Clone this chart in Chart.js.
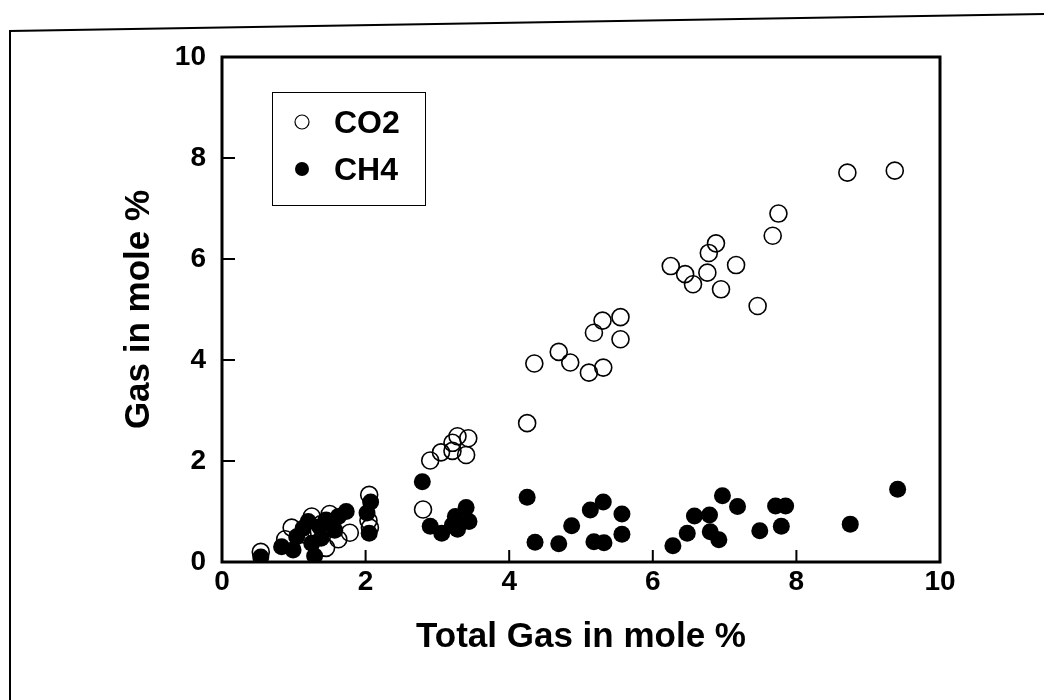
<!DOCTYPE html>
<html>
<head>
<meta charset="utf-8">
<script src="https://cdn.jsdelivr.net/npm/chart.js@4.4.1/dist/chart.umd.min.js"></script>
<style>
  html, body { margin: 0; padding: 0; background: #fff; }
  #wrap { width: 1044px; height: 700px; }
</style>
</head>
<body>
<div id="wrap"><canvas id="gasChart" width="1044" height="700"></canvas></div>
<script>
// total gas (x) vs. component gas (y), mole %
const co2Total = [0.54, 0.88, 0.97, 1.12, 1.25, 1.38, 1.50, 1.45, 1.62, 1.78, 1.30,
    2.05, 2.04, 2.06, 2.80, 2.90, 3.05, 3.21, 3.21, 3.28, 3.43, 3.40,
    4.25, 4.35, 4.69, 4.85, 5.11, 5.31, 5.18, 5.30, 5.55, 5.55,
    6.25, 6.45, 6.56, 6.76, 6.78, 6.88, 6.95, 7.16, 7.46, 7.67, 7.75, 8.71, 9.37];
const co2Gas = [0.20, 0.45, 0.68, 0.55, 0.90, 0.75, 0.95, 0.28, 0.45, 0.58, 0.62,
    1.33, 0.82, 0.68, 1.04, 2.01, 2.17, 2.20, 2.36, 2.49, 2.45, 2.12,
    2.75, 3.93, 4.16, 3.95, 3.75, 3.85, 4.54, 4.78, 4.85, 4.41,
    5.86, 5.70, 5.50, 5.73, 6.12, 6.31, 5.40, 5.88, 5.07, 6.46, 6.90, 7.71, 7.75];

const ch4Total = [0.54, 0.83, 0.99, 1.04, 1.13, 1.25, 1.29, 1.36, 1.38, 1.45, 1.57, 1.62, 1.73, 1.20,
    2.07, 2.02, 2.05, 2.79, 2.90, 3.06, 3.21, 3.25, 3.28, 3.40, 3.44,
    4.25, 4.36, 4.69, 4.87, 5.13, 5.31, 5.57, 5.57, 5.18, 5.32,
    6.28, 6.48, 6.58, 6.79, 6.80, 6.92, 6.97, 7.18, 7.49, 7.71, 7.85, 7.79, 8.75, 9.41];
const ch4Gas = [0.10, 0.30, 0.24, 0.50, 0.67, 0.37, 0.12, 0.70, 0.47, 0.83, 0.63, 0.90, 1.00, 0.80,
    1.19, 0.97, 0.57, 1.59, 0.71, 0.57, 0.73, 0.90, 0.65, 1.08, 0.80,
    1.28, 0.39, 0.36, 0.72, 1.03, 1.19, 0.95, 0.55, 0.40, 0.38,
    0.32, 0.57, 0.91, 0.93, 0.60, 0.44, 1.31, 1.10, 0.62, 1.11, 1.11, 0.71, 0.75, 1.44];

const axisTicks = [0, 2, 4, 6, 8, 10];

const FONT = "'Liberation Sans', Arial, sans-serif";

function toPoints(xs, ys) {
    return xs.map((x, i) => ({ x: x, y: ys[i] }));
}

// page frame, heavy plot box and inward tick marks
const framePlugin = {
    id: 'frame',
    beforeDraw(chart) {
        const ctx = chart.ctx;
        ctx.save();
        ctx.fillStyle = '#fff';
        ctx.fillRect(0, 0, chart.width, chart.height);
        ctx.strokeStyle = '#000';
        ctx.lineWidth = 2;
        ctx.beginPath();
        ctx.moveTo(10, 700);
        ctx.lineTo(10, 31);
        ctx.lineTo(1044, 14);
        ctx.stroke();
        ctx.restore();
    },
    afterDatasetsDraw(chart) {
        const ctx = chart.ctx;
        const a = chart.chartArea;
        const xs = chart.scales.x, ys = chart.scales.y;
        ctx.save();
        ctx.strokeStyle = '#000';
        ctx.lineWidth = 3;
        ctx.strokeRect(a.left, a.top, a.right - a.left, a.bottom - a.top);
        ctx.lineWidth = 2;
        ctx.beginPath();
        axisTicks.slice(1, -1).forEach(v => {
            const px = xs.getPixelForValue(v);
            ctx.moveTo(px, a.bottom);
            ctx.lineTo(px, a.bottom - 12);
            const py = ys.getPixelForValue(v);
            ctx.moveTo(a.left, py);
            ctx.lineTo(a.left + 13, py);
        });
        ctx.stroke();
        ctx.restore();
    }
};

// boxed legend in the upper left of the plot
const boxLegend = {
    id: 'boxLegend',
    afterDraw(chart) {
        const ctx = chart.ctx;
        ctx.save();
        ctx.strokeStyle = '#000';
        ctx.lineWidth = 1;
        ctx.strokeRect(272.5, 92.5, 153, 113);
        ctx.font = 'bold 32px ' + FONT;
        ctx.textBaseline = 'middle';
        ctx.fillStyle = '#000';
        chart.data.datasets.forEach((ds, i) => {
            const y = 122 + i * 47;
            ctx.beginPath();
            ctx.arc(302, y, 7, 0, Math.PI * 2);
            if (ds.pointBackgroundColor !== 'rgba(0,0,0,0)') {
                ctx.fillStyle = '#000';
                ctx.fill();
            } else {
                ctx.lineWidth = 1.2;
                ctx.stroke();
            }
            ctx.fillStyle = '#000';
            ctx.fillText(ds.label, 334, y + 2);
        });
        ctx.restore();
    }
};

new Chart(document.getElementById('gasChart'), {
    type: 'scatter',
    data: {
        datasets: [{
            label: 'CO2',
            data: toPoints(co2Total, co2Gas),
            pointRadius: 8.5,
            pointBorderWidth: 1.6,
            pointBorderColor: '#000',
            pointBackgroundColor: 'rgba(0,0,0,0)',
            order: 1
        },
        {
            label: 'CH4',
            data: toPoints(ch4Total, ch4Gas),
            pointRadius: 8.5,
            pointBorderWidth: 0,
            pointBorderColor: '#000',
            pointBackgroundColor: '#000',
            order: 0
        }]
    },
    options: {
        responsive: false,
        animation: false,
        layout: {
            padding: { left: 100, right: 104, top: 57, bottom: 0 }
        },
        plugins: {
            legend: { display: false },
            tooltip: { enabled: false }
        },
        scales: {
            x: {
                type: 'linear',
                min: 0,
                max: 10,
                afterBuildTicks: s => { s.ticks = axisTicks.map(v => ({ value: v })); },
                ticks: {
                    color: '#000',
                    padding: 3,
                    maxRotation: 0,
                    font: { family: FONT, size: 28, weight: 'bold' }
                },
                grid: { display: false, drawTicks: false, tickLength: 0 },
                border: { display: false },
                title: {
                    display: true,
                    text: 'Total Gas in mole %',
                    color: '#000',
                    padding: { top: 0, bottom: 42 },
                    font: { family: FONT, size: 35, weight: 'bold' }
                },
                afterFit: s => { s.height = 138; }
            },
            y: {
                type: 'linear',
                min: 0,
                max: 10,
                afterBuildTicks: s => { s.ticks = axisTicks.map(v => ({ value: v })); },
                ticks: {
                    color: '#000',
                    padding: 16,
                    font: { family: FONT, size: 28, weight: 'bold' }
                },
                grid: { display: false, drawTicks: false, tickLength: 0 },
                border: { display: false },
                title: {
                    display: true,
                    text: 'Gas in mole %',
                    color: '#000',
                    padding: { top: 18, bottom: 0 },
                    font: { family: FONT, size: 35, weight: 'bold' }
                },
                afterFit: s => { s.width = 122; }
            }
        }
    },
    plugins: [framePlugin, boxLegend]
});
</script>
</body>
</html>
